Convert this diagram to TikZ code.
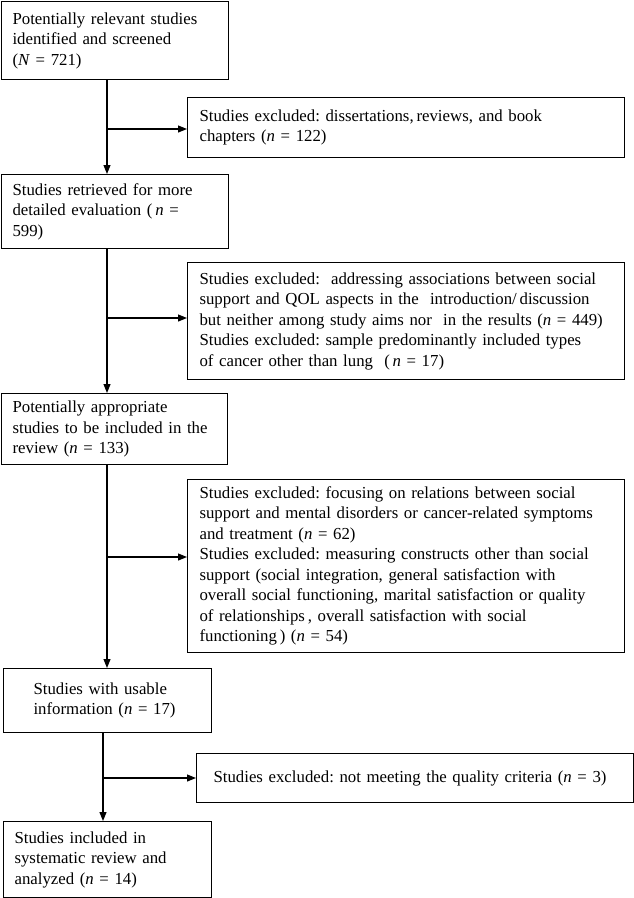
\documentclass[tikz,border=0pt]{standalone}
\usepackage{fontspec}
\setmainfont{Liberation Serif}
\usetikzlibrary{arrows.meta}
\frenchspacing
\begin{document}
\begin{tikzpicture}[x=1pt,y=1pt,
  box/.style={draw=black, line width=1.1pt, anchor=north west, align=left,
    inner ysep=2pt, font=\fontsize{16.8}{20.5}\selectfont\frenchspacing},
  arr/.style={line width=1.1pt, -{Triangle[length=9pt,width=7pt]}},
  ln/.style={line width=1.1pt}]
\useasboundingbox (0,0) rectangle (634,-898);
\node[box, minimum width=227pt, minimum height=78pt, inner xsep=11pt, text width=205pt] (b1) at (1,-1)
  {Potentially relevant studies\\identified and screened\\(\textit{N} = 721)};
\node[box, minimum width=437pt, minimum height=60pt, inner xsep=12pt, text width=413pt] (e1) at (187,-97)
  {Studies excluded: dissertations,\,reviews, and book\\chapters (\textit{n} = 122)};
\node[box, minimum width=227pt, minimum height=74pt, inner xsep=11pt, text width=205pt] (b2) at (1,-174)
  {Studies retrieved for more\\detailed evaluation (\,\textit{n} =\\599)};
\node[box, minimum width=437pt, minimum height=117pt, inner xsep=12pt, text width=413pt] (e2) at (187,-262)
  {Studies excluded:\ \ addressing associations between social\\support and QOL aspects in the\ \ introduction/\,discussion\\but neither among study aims nor\ \ in the results (\textit{n} = 449)\\Studies excluded: sample predominantly included types\\of cancer other than lung\ \ (\,\textit{n} = 17)};
\node[box, minimum width=226pt, minimum height=71pt, inner xsep=11pt, text width=204pt] (b3) at (1,-393)
  {Potentially appropriate\\studies to be included in the\\review (\textit{n} = 133)};
\node[box, minimum width=437pt, minimum height=173pt, inner xsep=12pt, text width=413pt] (e3) at (187,-479)
  {Studies excluded: focusing on relations between social\\support and mental disorders or cancer-related symptoms\\and treatment (\textit{n} = 62)\\Studies excluded: measuring constructs other than social\\support (social integration, general satisfaction with\\overall social functioning, marital satisfaction or quality\\of relationships\,, overall satisfaction with social\\functioning\,) (\textit{n} = 54)};
\node[box, minimum width=208pt, minimum height=64pt, inner xsep=30pt, text width=148pt] (b4) at (3,-668)
  {Studies with usable\\information (\textit{n} = 17)};
\node[box, minimum width=437pt, minimum height=49pt, inner xsep=17pt, text width=403pt] (e4) at (196,-753)
  {Studies excluded: not meeting the quality criteria (\textit{n} = 3)};
\node[box, minimum width=208pt, minimum height=76pt, inner xsep=11pt, text width=186pt] (b5) at (3,-821)
  {Studies included in\\systematic review and\\analyzed (\textit{n} = 14)};
% trunk junctions
\coordinate (t1) at (107,-1);
\coordinate (t4) at (103,-1);
\coordinate (j1) at (107,-129);
\coordinate (j2) at (107,-318);
\coordinate (j3) at (107,-557);
\coordinate (j4) at (103,-778);
\draw[arr] (t1 |- b1.south) -- (t1 |- b2.north);
\draw[arr] (t1 |- b2.south) -- (t1 |- b3.north);
\draw[arr] (t1 |- b3.south) -- (t1 |- b4.north);
\draw[arr] (t4 |- b4.south) -- (t4 |- b5.north);
\draw[arr] (j1) -- (j1 -| e1.west);
\draw[arr] (j2) -- (j2 -| e2.west);
\draw[arr] (j3) -- (j3 -| e3.west);
\draw[arr] (j4) -- (j4 -| e4.west);
\end{tikzpicture}
\end{document}
